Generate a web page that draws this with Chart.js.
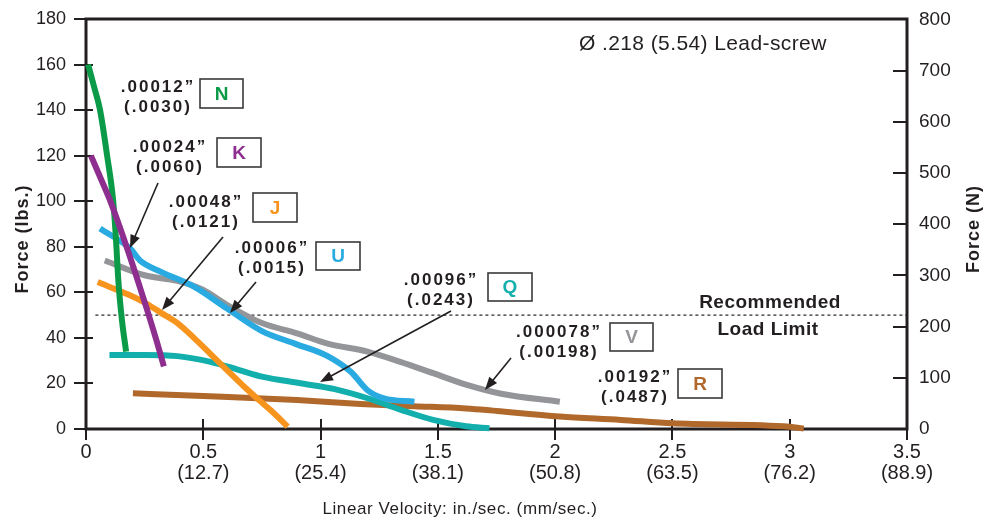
<!DOCTYPE html>
<html lang="en">
<head>
<meta charset="UTF-8">
<title>Force vs Linear Velocity</title>
<script src="https://cdn.jsdelivr.net/npm/chart.js@4"></script>
<style>
  html, body { margin: 0; padding: 0; background: #fff; overflow: hidden; }
  canvas { display: block; }
</style>
</head>
<body>
<canvas id="chart" width="999" height="521"></canvas>
<script>
// velocity in./sec., force lbs.
const seriesN = [[0.009,160],[0.035,150],[0.06,140],[0.09,120],[0.116,100],[0.128,83],[0.138,65],[0.153,48],[0.171,34]]
const seriesK = [[0.021,120],[0.067,109],[0.1,101],[0.173,80],[0.243,58],[0.3,39],[0.332,27.5]]
const seriesJ = [[0.05,64.5],[0.18,59],[0.25,55.5],[0.32,51],[0.39,46.5],[0.46,40],[0.53,33],[0.6,26],[0.67,19],[0.74,12.5],[0.79,8],[0.86,1]]
const seriesU = [[0.06,88],[0.19,79],[0.23,74],[0.32,69],[0.46,62.5],[0.6,53],[0.75,43],[0.89,37.5],[1.03,32],[1.13,25],[1.2,17],[1.27,13.5],[1.4,12]]
const seriesV = [[0.08,74],[0.25,67.5],[0.39,65],[0.5,61],[0.6,54.5],[0.75,46.5],[0.9,42],[1.03,37.5],[1.2,34],[1.34,29.5],[1.48,24.5],[1.62,19.5],[1.77,15.5],[2.02,12]]
const seriesQ = [[0.1,32.5],[0.25,32.5],[0.39,32],[0.53,29.5],[0.65,26],[0.75,23],[0.92,20],[1.06,17.5],[1.2,13.5],[1.34,8.5],[1.48,4],[1.62,1.2],[1.72,0.3]]
const seriesR = [[0.2,15.7],[0.5,14.5],[0.9,12.7],[1.17,11],[1.4,10],[1.62,9],[2.02,5.5],[2.28,4],[2.5,2.5],[3.0,1],[3.06,0.2]]
const loadLimit = 50
const loadLimitSpan = [0.04, 3.5]

const xTicksIn = ['0', '0.5', '1', '1.5', '2', '2.5', '3', '3.5']
const xTicksMm = ['', '(12.7)', '(25.4)', '(38.1)', '(50.8)', '(63.5)', '(76.2)', '(88.9)']
const newtonTicks = [0, 100, 200, 300, 400, 500, 600, 700, 800]
const lbsToN = 4.448

// lead pitch labels: inch, (mm), letter
const pitchLabels = [
  { inch: '.00012\u201D', mm: '(.0030)', code: 'N', color: '#0b9b48' },
  { inch: '.00024\u201D', mm: '(.0060)', code: 'K', color: '#8e2f8f' },
  { inch: '.00048\u201D', mm: '(.0121)', code: 'J', color: '#f7941d' },
  { inch: '.00006\u201D', mm: '(.0015)', code: 'U', color: '#29aae1' },
  { inch: '.00096\u201D', mm: '(.0243)', code: 'Q', color: '#12afac' },
  { inch: '.000078\u201D', mm: '(.00198)', code: 'V', color: '#939598' },
  { inch: '.00192\u201D', mm: '(.0487)', code: 'R', color: '#b1682b' },
]

const ink = '#231f20'
const FONT = '"Liberation Sans", Arial, Helvetica, sans-serif'

// label placement in pixels: text centre, box, arrow
const labelPos = {
  N: { tx: 157, ty: 87, box: [200, 79, 43, 29] },
  K: { tx: 169, ty: 147, box: [217, 138, 44, 29], arrow: [158, 183, 130, 248] },
  J: { tx: 205, ty: 202, box: [253, 193, 44, 29], arrow: [223, 237, 162, 310] },
  U: { tx: 271, ty: 248, box: [316, 242, 44, 28], arrow: [256, 282, 230, 313] },
  Q: { tx: 440, ty: 280, box: [488, 273, 44, 28], arrow: [451, 311, 320, 382] },
  V: { tx: 558, ty: 332, box: [610, 323, 43, 28], arrow: [511, 358, 485, 390] },
  R: { tx: 634, ty: 377, box: [678, 369, 44, 29] },
}

const pts = arr => arr.map(p => ({ x: p[0], y: p[1] }))
const curve = (arr, color) => ({
  data: pts(arr), borderColor: color, borderWidth: 6, pointRadius: 0,
  cubicInterpolationMode: 'monotone', borderCapStyle: 'butt', fill: false, clip: false,
})

const frame = {
  id: 'frame',
  beforeDatasetsDraw(chart) {
    const { ctx, chartArea: a, scales } = chart
    ctx.save()
    ctx.strokeStyle = ink
    ctx.lineWidth = 2
    scales.y.ticks.forEach(t => {
      const py = Math.round(scales.y.getPixelForValue(t.value))
      ctx.beginPath(); ctx.moveTo(74, py); ctx.lineTo(a.left + 7, py); ctx.stroke()
    })
    scales.y1.ticks.forEach(t => {
      const py = Math.round(scales.y1.getPixelForValue(t.value))
      ctx.beginPath(); ctx.moveTo(a.right - 14, py); ctx.lineTo(a.right, py); ctx.stroke()
    })
    scales.x.ticks.forEach(t => {
      const px = Math.round(scales.x.getPixelForValue(t.value))
      ctx.beginPath(); ctx.moveTo(px, a.bottom - 10); ctx.lineTo(px, a.bottom + 11); ctx.stroke()
    })
    ctx.lineWidth = 3
    ctx.strokeRect(a.left, a.top, a.right - a.left, a.bottom - a.top)
    ctx.restore()
  },
  afterDatasetsDraw(chart) {
    const { ctx } = chart
    ctx.save()
    ctx.fillStyle = ink
    ctx.textBaseline = 'middle'

    // axis titles
    ctx.font = 'bold 18px ' + FONT
    ctx.letterSpacing = '1px'
    ctx.textAlign = 'center'
    ctx.save(); ctx.translate(23, 239); ctx.rotate(-Math.PI / 2); ctx.fillText('Force (lbs.)', 0, 0); ctx.restore()
    ctx.save(); ctx.translate(974, 229); ctx.rotate(-Math.PI / 2); ctx.fillText('Force (N)', 0, 0); ctx.restore()
    ctx.letterSpacing = '0.6px'
    ctx.font = '17px ' + FONT
    ctx.fillText('Linear Velocity: in./sec. (mm/sec.)', 460, 509)

    ctx.textAlign = 'left'
    ctx.font = '21px ' + FONT
    ctx.letterSpacing = '0.4px'
    ctx.fillText('\u00D8 .218 (5.54) Lead-screw', 579, 44)

    ctx.textAlign = 'center'
    ctx.letterSpacing = '0.5px'
    ctx.font = 'bold 19px ' + FONT
    ctx.fillText('Recommended', 770, 303)
    ctx.fillText('Load Limit', 768, 330)

    pitchLabels.forEach(l => {
      const p = labelPos[l.code]
      ctx.fillStyle = ink
      ctx.font = 'bold 17px ' + FONT
      ctx.letterSpacing = '2px'
      ctx.textAlign = 'center'
      ctx.fillText(l.inch, p.tx + 1, p.ty)
      ctx.fillText(l.mm, p.tx + 1, p.ty + 20)
      const [bx, by, bw, bh] = p.box
      ctx.strokeStyle = '#3a3a3a'
      ctx.lineWidth = 1.6
      ctx.strokeRect(bx, by, bw, bh)
      ctx.fillStyle = l.color
      ctx.letterSpacing = '0px'
      ctx.font = 'bold 19px ' + FONT
      ctx.fillText(l.code, bx + bw / 2, by + bh / 2 + 1)
      if (p.arrow) {
        const [x1, y1, x2, y2] = p.arrow
        const ang = Math.atan2(y2 - y1, x2 - x1)
        const hl = 13, hw = 5
        ctx.strokeStyle = ink
        ctx.fillStyle = ink
        ctx.lineWidth = 1.6
        ctx.beginPath()
        ctx.moveTo(x1, y1)
        ctx.lineTo(x2 - Math.cos(ang) * hl * 0.8, y2 - Math.sin(ang) * hl * 0.8)
        ctx.stroke()
        ctx.beginPath()
        ctx.moveTo(x2, y2)
        ctx.lineTo(x2 - Math.cos(ang) * hl - Math.sin(ang) * hw, y2 - Math.sin(ang) * hl + Math.cos(ang) * hw)
        ctx.lineTo(x2 - Math.cos(ang) * hl + Math.sin(ang) * hw, y2 - Math.sin(ang) * hl - Math.cos(ang) * hw)
        ctx.closePath()
        ctx.fill()
      }
    })
    ctx.restore()
  }
}

const datasets = [
  curve(seriesK, pitchLabels[1].color),
  curve(seriesN, pitchLabels[0].color),
  curve(seriesJ, pitchLabels[2].color),
  curve(seriesU, pitchLabels[3].color),
  curve(seriesV, pitchLabels[5].color),
  curve(seriesQ, pitchLabels[4].color),
  curve(seriesR, pitchLabels[6].color),
  {
    data: loadLimitSpan.map(x => ({ x, y: loadLimit })),
    borderColor: ink, borderWidth: 1.2, borderDash: [3, 3], pointRadius: 0, fill: false,
  },
]

const noGrid = { display: false, drawTicks: false }
const noBorder = { display: false }
const fixW = w => s => { s.width = w; s.paddingTop = 0; s.paddingBottom = 0 }

new Chart(document.getElementById('chart'), {
  type: 'line',
  data: { datasets },
  options: {
    responsive: false,
    animation: false,
    events: [],
    layout: { padding: { top: 19, left: 0, right: 0, bottom: 0 } },
    plugins: { legend: { display: false }, tooltip: { enabled: false } },
    scales: {
      x: {
        type: 'linear', min: 0, max: 3.5,
        grid: noGrid, border: noBorder,
        afterFit: s => { s.height = 92; s.paddingLeft = 0; s.paddingRight = 0 },
        ticks: {
          stepSize: 0.5, autoSkip: false, maxRotation: 0, padding: 13, color: ink,
          font: { family: FONT, size: 20, lineHeight: 1.05 },
          callback: v => {
            const i = Math.round(v / 0.5)
            return i === 0 ? xTicksIn[0] : [xTicksIn[i], xTicksMm[i]]
          }
        }
      },
      y: {
        position: 'left', min: 0, max: 180,
        grid: noGrid, border: noBorder,
        afterFit: fixW(86),
        ticks: { stepSize: 20, padding: 20, color: ink, font: { family: FONT, size: 18 } }
      },
      y1: {
        position: 'right', min: 0, max: 180 * lbsToN,
        grid: noGrid, border: noBorder,
        afterFit: fixW(92),
        afterBuildTicks: s => { s.ticks = newtonTicks.map(v => ({ value: v })) },
        ticks: { padding: 12, color: ink, font: { family: FONT, size: 19 } }
      }
    }
  },
  plugins: [frame]
})
</script>
</body>
</html>
